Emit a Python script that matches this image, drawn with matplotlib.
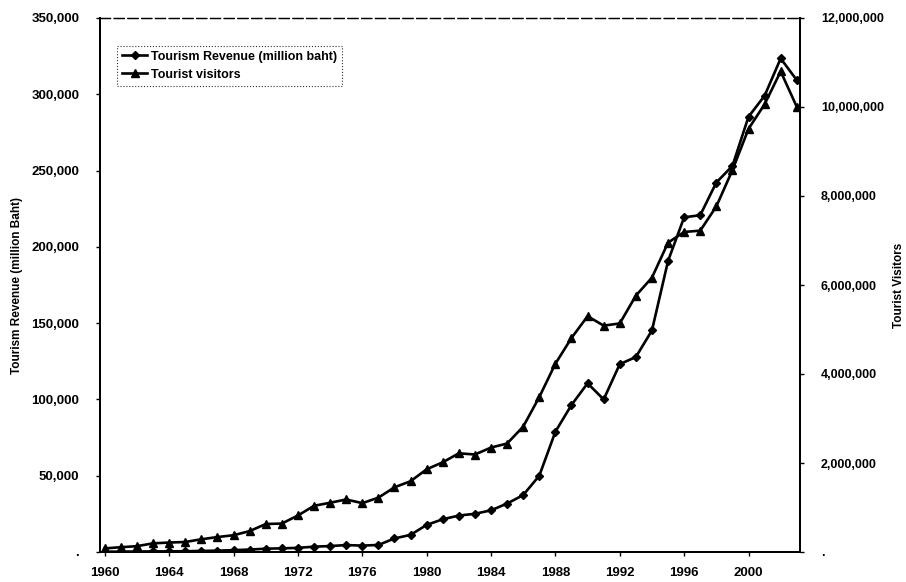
import matplotlib
matplotlib.use("Agg")
import matplotlib.pyplot as plt
from matplotlib.ticker import FuncFormatter

years = list(range(1960, 2004))

revenue_million_baht = [
    196, 250, 310, 394, 430, 506, 700, 900, 1200, 1600,
    2175, 2400, 2700, 3500, 3900, 4538, 4200, 4607, 8894, 11232,
    17765, 21455, 23879, 25050, 27317, 31768, 37321, 50024, 78859, 96386,
    110572, 100004, 123135, 127802, 145211, 190765, 219364, 220754, 242177, 253018,
    285272, 299047, 323484, 309269,
]

tourist_visitors = [
    81000, 108000, 131000, 195000, 212000, 225000, 286000, 336000, 377000, 470000,
    629000, 639000, 821000, 1038000, 1107000, 1180000, 1098000, 1221000, 1454000, 1591000,
    1859000, 2016000, 2218000, 2191000, 2347000, 2438000, 2818000, 3483000, 4231000, 4810000,
    5299000, 5087000, 5136000, 5761000, 6166000, 6952000, 7192000, 7221000, 7765000, 8580000,
    9509000, 10062000, 10799000, 10004000,
]

x_ticks = [1960, 1964, 1968, 1972, 1976, 1980, 1984, 1988, 1992, 1996, 2000]
left_ticks = [0, 50000, 100000, 150000, 200000, 250000, 300000, 350000]
right_ticks = [0, 2000000, 4000000, 6000000, 8000000, 10000000, 12000000]

plt.rcParams['font.family'] = ['Liberation Sans', 'DejaVu Sans']
plt.rcParams['font.weight'] = 'bold'

fig = plt.figure(figsize=(9.06, 5.82), dpi=100)
ax = fig.add_axes([100/906, 1 - 552/582, 700/906, 534/582])
ax2 = ax.twinx()

fmt = FuncFormatter(lambda v, p: "." if v == 0 else f"{int(v):,}")

l1, = ax.plot(years, revenue_million_baht, color='black', lw=1.9,
              marker='D', ms=4.5, label='Tourism Revenue (million baht)')
l2, = ax2.plot(years, tourist_visitors, color='black', lw=1.9,
               marker='^', ms=6, label='Tourist visitors')

ax.set_xlim(1959.7, 2003.2)
ax.set_ylim(0, 350000)
ax2.set_ylim(0, 12000000)
ax.set_xticks(x_ticks)
ax.set_yticks(left_ticks)
ax2.set_yticks(right_ticks)
ax.yaxis.set_major_formatter(fmt)
ax2.yaxis.set_major_formatter(fmt)

for a in (ax, ax2):
    a.tick_params(labelsize=9.5, length=3, width=1, direction='out')
    for s in a.spines.values():
        s.set_linewidth(1.4)
    a.spines['top'].set_linestyle((0, (8, 3)))
    a.spines['top'].set_linewidth(0.9)

ax.tick_params(axis='y', pad=12)
ax2.tick_params(axis='y', pad=12, labelsize=9)
ax.tick_params(axis='x', pad=8)

ax.set_ylabel('Tourism Revenue (million Baht)', fontsize=8.5, fontweight='bold', labelpad=6)
ax2.set_ylabel('Tourist Visitors', fontsize=8.5, fontweight='bold')
ax2.yaxis.set_label_coords(1.133, 0.5)

leg = ax.legend(handles=[l1, l2], loc='upper left', bbox_to_anchor=(0.016, 0.96),
                fontsize=9, frameon=True, fancybox=False, handlelength=2.0,
                borderpad=0.4, labelspacing=0.5, handletextpad=0.3)
leg.get_frame().set_edgecolor('black')
leg.get_frame().set_linestyle(':')
leg.get_frame().set_linewidth(0.8)

fig.savefig('out.png', dpi=100)
